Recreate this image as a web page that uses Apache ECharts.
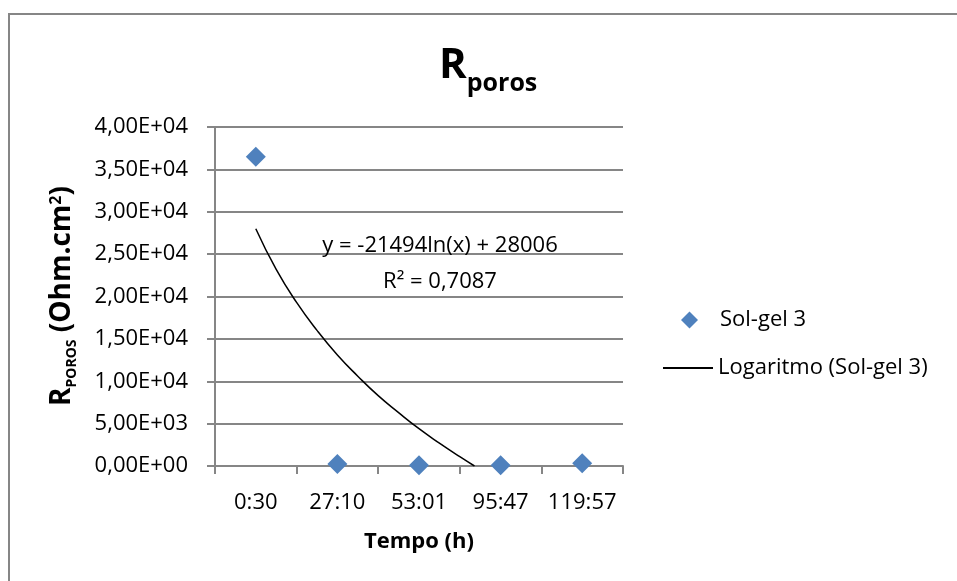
<!DOCTYPE html>
<html><head><meta charset="utf-8">
<script src="https://cdn.jsdelivr.net/npm/echarts@6/dist/echarts.min.js"></script>
<style>html,body{margin:0;padding:0;background:#fff}#c{width:957px;height:581px}</style>
</head><body><div id="c"></div>
<script>
const categories = ['0:30', '27:10', '53:01', '95:47', '119:57'];
const solGel3 = [36500, 240, 80, 80, 310];
// trendline samples: [category position (1 = first), value]
const trendX = [1, 1.25, 1.5, 1.75, 2, 2.25, 2.5, 2.75, 3, 3.25, 3.5, 3.68];
const trendY = [28000, 23200, 19300, 16000, 13100, 10600, 8300, 6300, 4400, 2700, 1100, 0];
const yTicks = { min: 0, max: 40000, interval: 5000 };
const equationText = 'y = -21494ln(x) + 28006';
const r2Text = 'R² = 0,7087';

const FONT = 'Open Sans';
const GRAY = '#868686';
function fmt(v) {
  const s = Number(v).toExponential(2); // e.g. 4.00e+4
  const m = s.match(/^(-?\d)\.(\d+)e([+-])(\d+)$/);
  return m[1] + ',' + m[2] + 'E' + m[3] + m[4].padStart(2, '0');
}

const chart = echarts.init(document.getElementById('c'), null, { renderer: 'canvas' });
chart.setOption({
  animation: false,
  backgroundColor: '#fff',
  textStyle: { fontFamily: FONT },
  title: {
    text: '{a|R}{b|poros}',
    left: 439, top: 37, padding: 0,
    textStyle: {
      rich: {
        a: { fontFamily: FONT, fontWeight: 'bold', fontSize: 42, color: '#000' },
        b: { fontFamily: FONT, fontWeight: 'bold', fontSize: 25, color: '#000', padding: [34, 0, 0, 0] }
      }
    }
  },
  grid: { left: 215, right: 334, top: 127, bottom: 115, containLabel: false },
  xAxis: [{
    type: 'category', data: categories, position: 'bottom',
    boundaryGap: true,
    axisLine: { lineStyle: { color: GRAY, width: 2 } },
    axisTick: { show: true, length: 8, alignWithLabel: false, interval: 0, lineStyle: { color: GRAY, width: 2 } },
    axisLabel: { fontFamily: FONT, fontSize: 22, color: '#000', margin: 26, interval: 0, hideOverlap: false },
    splitLine: { show: false },
    name: 'Tempo (h)', nameLocation: 'middle', nameGap: 65,
    nameTextStyle: { fontFamily: FONT, fontWeight: 'bold', fontSize: 22, color: '#000' }
  }, {
    type: 'value', min: 0.5, max: 5.5, show: false, position: 'bottom'
  }],
  yAxis: {
    type: 'value', min: yTicks.min, max: yTicks.max, interval: yTicks.interval,
    axisLine: { show: true, lineStyle: { color: GRAY, width: 2 } },
    axisTick: { show: true, length: 8, inside: false, lineStyle: { color: GRAY, width: 2 } },
    axisLabel: { fontFamily: FONT, fontSize: 22, color: '#000', margin: 27, formatter: fmt },
    splitLine: { show: true, lineStyle: { color: GRAY, width: 2 } }
  },
  legend: [{
    data: ['Sol-gel 3'], orient: 'vertical', left: 681, top: 309, padding: 0,
    itemWidth: 17, itemHeight: 17, itemGap: 10,
    textStyle: { fontFamily: FONT, fontSize: 22, color: '#000', padding: [0, 0, 0, 17] }
  }, {
    data: [{ name: 'Logaritmo (Sol-gel 3)', icon: 'rect' }], orient: 'vertical', left: 663, top: 357, padding: 0,
    itemWidth: 50, itemHeight: 2,
    textStyle: { fontFamily: FONT, fontSize: 22, color: '#000' }, itemGap: 0
  }],
  series: [{
    name: 'Sol-gel 3', type: 'scatter', xAxisIndex: 1,
    symbol: 'diamond', symbolSize: 20,
    itemStyle: { color: '#4F81BD', opacity: 1 },
    data: solGel3.map((v, i) => [i + 1, v]),
    z: 3
  }, {
    name: 'Logaritmo (Sol-gel 3)', type: 'line', xAxisIndex: 1,
    smooth: true, showSymbol: false, symbol: 'none',
    lineStyle: { color: '#000', width: 1.5 },
    itemStyle: { color: '#000' },
    data: trendX.map((x, i) => [x, trendY[i]]),
    z: 2
  }],
  graphic: [
    { type: 'rect', shape: { x: 9, y: 14, width: 1200, height: 800 }, style: { fill: 'none', stroke: GRAY, lineWidth: 2 }, z: -10, silent: true },
    { type: 'text', style: { text: equationText, x: 440, y: 246, align: 'center', verticalAlign: 'middle', font: '22px "Open Sans"', fill: '#000' }, z: 10 },
    { type: 'text', style: { text: r2Text, x: 440, y: 282, align: 'center', verticalAlign: 'middle', font: '22px "Open Sans"', fill: '#000' }, z: 10 },
    {
      type: 'text', x: 62, y: 296, rotation: Math.PI / 2,
      style: {
        text: '{a|R}{b|POROS}{a| (Ohm.cm}{c|2}{a|)}',
        align: 'center', verticalAlign: 'middle',
        rich: {
          a: { fontFamily: FONT, fontWeight: 'bold', fontSize: 28, fill: '#000' },
          b: { fontFamily: FONT, fontWeight: 'bold', fontSize: 14, fill: '#000', padding: [20, 0, 0, 0] },
          c: { fontFamily: FONT, fontWeight: 'bold', fontSize: 16, fill: '#000', padding: [0, 0, 12, 0] }
        }
      }
    }
  ]
});
</script></body></html>
